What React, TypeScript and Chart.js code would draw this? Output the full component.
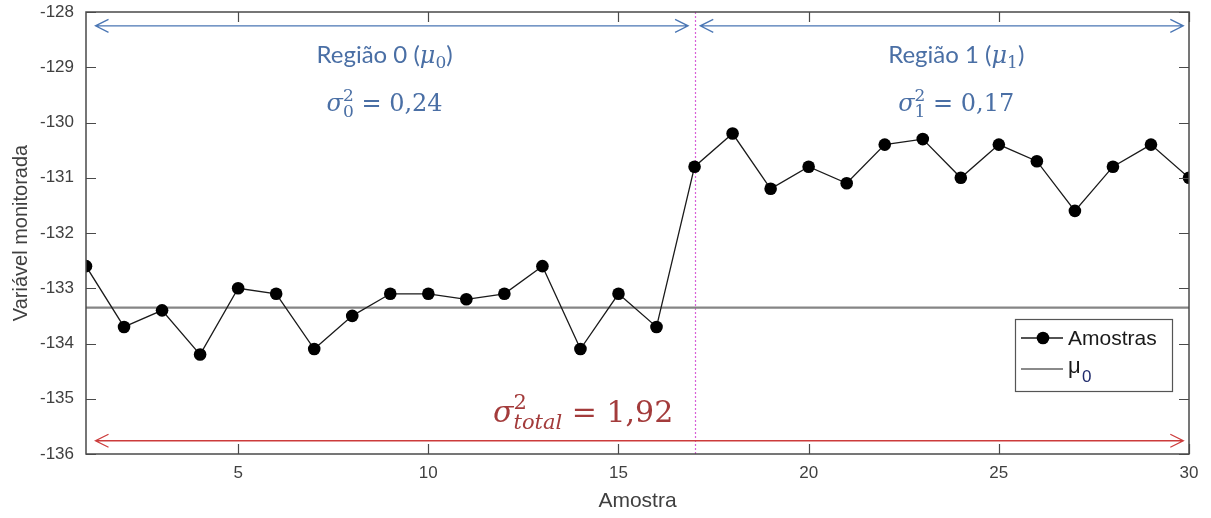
import React, { useEffect, useRef } from 'react';
import { Chart, registerables } from 'chart.js';

Chart.register(...registerables);

// ---- data ----
const SAMPLE_X = [1, 2, 3, 4, 5, 6, 7, 8, 9, 10, 11, 12, 13, 14, 15, 16, 17, 18, 19, 20, 21, 22, 23, 24, 25, 26, 27, 28, 29, 30];
const SAMPLES = [
  -132.6, -133.7, -133.4, -134.2, -133.0, -133.1, -134.1, -133.5, -133.1, -133.1,
  -133.2, -133.1, -132.6, -134.1, -133.1, -133.7, -130.8, -130.2, -131.2, -130.8,
  -131.1, -130.4, -130.3, -131.0, -130.4, -130.7, -131.6, -130.8, -130.4, -131.0,
];
const MU0 = -133.35;
const MU0_X = [1, 30];
const X_TICKS = [5, 10, 15, 20, 25, 30];
const Y_TICKS = [-136, -135, -134, -133, -132, -131, -130, -129, -128];
const CHANGE_POINT = 17;
const REGION_NAMES = ['Região 0 (', 'Região 1 ('];
const REGION_IDX = ['0', '1'];
const REGION_VARIANCES = ['0,24', '0,17'];
const TOTAL_VARIANCE = '1,92';
const SERIES_LABELS = ['Amostras', 'μ'];

// ---- styles ----
const AXIS_COLOR = '#4a4a4a';
const TEXT_COLOR = '#404040';
const BLUE = '#4a6fa5';
const BLUE_ARROW = '#4a76b4';
const RED_TEXT = '#a33b3b';
const RED_ARROW = '#cc3b3b';
const SANS = '"Liberation Sans", Arial, sans-serif';
const ANN_SANS = 'Lato, "Open Sans", sans-serif';
const SERIF = '"DejaVu Serif", serif';

type Seg = { t: string; font: string; dy?: number; hold?: boolean };

function drawSegs(ctx: CanvasRenderingContext2D, segs: Seg[], cx: number, baseline: number, color: string) {
  let x = 0;
  let pending = 0;
  const pos: number[] = [];
  for (const s of segs) {
    ctx.font = s.font;
    const w = ctx.measureText(s.t).width;
    pos.push(x);
    if (s.hold) {
      pending = w;
    } else {
      x += Math.max(w, pending);
      pending = 0;
    }
  }
  const start = cx - x / 2;
  ctx.fillStyle = color;
  ctx.textAlign = 'left';
  ctx.textBaseline = 'alphabetic';
  segs.forEach((s, i) => {
    ctx.font = s.font;
    ctx.fillText(s.t, start + pos[i], baseline + (s.dy || 0));
  });
}

function arrow(ctx: CanvasRenderingContext2D, x1: number, x2: number, y: number, color: string) {
  ctx.save();
  ctx.strokeStyle = color;
  ctx.lineWidth = 1.3;
  ctx.beginPath();
  ctx.moveTo(x1, y);
  ctx.lineTo(x2, y);
  ctx.moveTo(x1 + 13, y - 6.5);
  ctx.lineTo(x1, y);
  ctx.lineTo(x1 + 13, y + 6.5);
  ctx.moveTo(x2 - 13, y - 6.5);
  ctx.lineTo(x2, y);
  ctx.lineTo(x2 - 13, y + 6.5);
  ctx.stroke();
  ctx.restore();
}

const annotations = {
  id: 'annotations',
  beforeDatasetsDraw(chart: any) {
    const { ctx, chartArea: a, scales } = chart;
    const xs = scales.x;
    const ys = scales.y;
    ctx.save();
    // change point dotted line
    const cx = Math.round(xs.getPixelForValue(CHANGE_POINT)) + 0.5;
    ctx.strokeStyle = '#d860d8';
    ctx.lineWidth = 1.2;
    ctx.setLineDash([2, 2]);
    ctx.beginPath();
    ctx.moveTo(cx, a.top);
    ctx.lineTo(cx, a.bottom);
    ctx.stroke();
    ctx.setLineDash([]);

    // arrows
    const yTop = ys.getPixelForValue(-128.25);
    arrow(ctx, xs.getPixelForValue(1.25), xs.getPixelForValue(16.83), yTop, BLUE_ARROW);
    arrow(ctx, xs.getPixelForValue(17.15), xs.getPixelForValue(29.85), yTop, BLUE_ARROW);
    arrow(ctx, xs.getPixelForValue(1.25), xs.getPixelForValue(29.85), ys.getPixelForValue(-135.76), RED_ARROW);

    // region texts
    const centers = [8.85, 23.88];
    centers.forEach((c, i) => {
      const px = xs.getPixelForValue(c);
      drawSegs(ctx, [
        { t: REGION_NAMES[i], font: `24px ${ANN_SANS}` },
        { t: 'μ', font: `italic 24px ${SERIF}` },
        { t: REGION_IDX[i], font: `17px ${SERIF}`, dy: 5 },
        { t: ')', font: `24px ${ANN_SANS}` },
      ], px, ys.getPixelForValue(-128.92), BLUE);
      drawSegs(ctx, [
        { t: 'σ', font: `italic 24px ${SERIF}` },
        { t: '2', font: `17px ${SERIF}`, dy: -10, hold: true },
        { t: REGION_IDX[i], font: `17px ${SERIF}`, dy: 6 },
        { t: ' = ' + REGION_VARIANCES[i], font: `24px ${SERIF}` },
      ], px, ys.getPixelForValue(-129.79), BLUE);
    });

    // total variance
    drawSegs(ctx, [
      { t: 'σ', font: `italic 30px ${SERIF}` },
      { t: '2', font: `21px ${SERIF}`, dy: -13, hold: true },
      { t: 'total', font: `italic 21px ${SERIF}`, dy: 7 },
      { t: ' = ' + TOTAL_VARIANCE, font: `30px ${SERIF}` },
    ], xs.getPixelForValue(14.07), ys.getPixelForValue(-135.42), RED_TEXT);
    ctx.restore();
  },
  afterDatasetsDraw(chart: any) {
    const { ctx, chartArea: a, scales } = chart;
    const xs = scales.x;
    const ys = scales.y;
    ctx.save();
    ctx.strokeStyle = AXIS_COLOR;
    ctx.lineWidth = 1.5;
    ctx.strokeRect(a.left, a.top, a.right - a.left, a.bottom - a.top);
    ctx.lineWidth = 1.2;
    ctx.beginPath();
    X_TICKS.forEach((v) => {
      const px = Math.round(xs.getPixelForValue(v)) + 0.5;
      ctx.moveTo(px, a.bottom);
      ctx.lineTo(px, a.bottom - 10);
      ctx.moveTo(px, a.top);
      ctx.lineTo(px, a.top + 10);
    });
    Y_TICKS.forEach((v) => {
      const py = Math.round(ys.getPixelForValue(v)) + 0.5;
      ctx.moveTo(a.left, py);
      ctx.lineTo(a.left + 10, py);
      ctx.moveTo(a.right, py);
      ctx.lineTo(a.right - 10, py);
    });
    ctx.stroke();

    // legend
    const lx = a.right - 174;
    const ly = a.bottom - 135;
    const lw = 157;
    const lh = 72;
    ctx.fillStyle = '#ffffff';
    ctx.fillRect(lx, ly, lw, lh);
    ctx.strokeStyle = '#555555';
    ctx.lineWidth = 1.2;
    ctx.strokeRect(lx + 0.5, ly + 0.5, lw, lh);
    const r1 = ly + 19;
    const r2 = ly + 50;
    ctx.strokeStyle = '#1a1a1a';
    ctx.lineWidth = 1.3;
    ctx.beginPath();
    ctx.moveTo(lx + 6, r1);
    ctx.lineTo(lx + 48, r1);
    ctx.stroke();
    ctx.fillStyle = '#000';
    ctx.beginPath();
    ctx.arc(lx + 28, r1, 6.3, 0, Math.PI * 2);
    ctx.fill();
    ctx.strokeStyle = '#8a8a8a';
    ctx.lineWidth = 2.2;
    ctx.beginPath();
    ctx.moveTo(lx + 6, r2);
    ctx.lineTo(lx + 48, r2);
    ctx.stroke();
    ctx.fillStyle = '#1a1a1a';
    ctx.textAlign = 'left';
    ctx.textBaseline = 'middle';
    ctx.font = `21px ${SANS}`;
    ctx.fillText(SERIES_LABELS[0], lx + 53, r1 + 1);
    ctx.font = `22px ${SANS}`;
    ctx.fillText(SERIES_LABELS[1], lx + 53, r2 - 2);
    ctx.fillStyle = '#1f2a6b';
    ctx.font = `17px ${SANS}`;
    ctx.fillText(REGION_IDX[0], lx + 67, r2 + 8);
    ctx.restore();
  },
};

const noScalePadding = (s: any) => {
  s.paddingTop = 0;
  s.paddingBottom = 0;
  s.paddingLeft = 0;
  s.paddingRight = 0;
};

export default function App() {
  const ref = useRef<HTMLCanvasElement>(null);
  useEffect(() => {
    document.body.style.margin = '0';
    const canvas = ref.current!;
    const chart = new Chart(canvas, {
      type: 'line',
      data: {
        datasets: [
          {
            label: SERIES_LABELS[0],
            data: SAMPLE_X.map((x, i) => ({ x, y: SAMPLES[i] })),
            borderColor: '#1a1a1a',
            borderWidth: 1.3,
            pointRadius: 6.3,
            pointBackgroundColor: '#000000',
            pointBorderColor: '#000000',
            pointBorderWidth: 0,
            tension: 0,
          },
          {
            label: 'μ0',
            data: MU0_X.map((x) => ({ x, y: MU0 })),
            borderColor: '#858585',
            borderWidth: 2.4,
            pointRadius: 0,
            tension: 0,
          },
        ],
      },
      options: {
        responsive: false,
        animation: false,
        layout: { padding: { top: 12, right: 22, left: 0, bottom: 0 } },
        plugins: { legend: { display: false }, tooltip: { enabled: false } },
        scales: {
          x: {
            type: 'linear',
            min: 1,
            max: 30,
            afterBuildTicks: (s: any) => {
              s.ticks = X_TICKS.map((v) => ({ value: v }));
            },
            afterFit: (s: any) => {
              s.height = 64;
              noScalePadding(s);
            },
            grid: { display: false, drawTicks: false },
            border: { display: false },
            ticks: { font: { family: SANS, size: 17 }, color: TEXT_COLOR, padding: 9, maxRotation: 0 },
            title: {
              display: true,
              text: 'Amostra',
              font: { family: SANS, size: 21 },
              color: TEXT_COLOR,
              padding: { top: 0, bottom: 4 },
            },
          },
          y: {
            type: 'linear',
            min: -136,
            max: -128,
            afterBuildTicks: (s: any) => {
              s.ticks = Y_TICKS.map((v) => ({ value: v }));
            },
            afterFit: (s: any) => {
              s.width = 86;
              noScalePadding(s);
            },
            grid: { display: false, drawTicks: false },
            border: { display: false },
            ticks: { font: { family: SANS, size: 17 }, color: TEXT_COLOR, padding: 12 },
            title: {
              display: true,
              text: 'Variável monitorada',
              font: { family: SANS, size: 20 },
              color: TEXT_COLOR,
              padding: { top: 9, bottom: 0 },
            },
          },
        },
      },
      plugins: [annotations],
    } as any);
    return () => chart.destroy();
  }, []);
  return (
    <div style={{ width: 1211, height: 518 }}>
      <canvas ref={ref} width={1211} height={518} style={{ display: 'block' }} />
    </div>
  );
}
